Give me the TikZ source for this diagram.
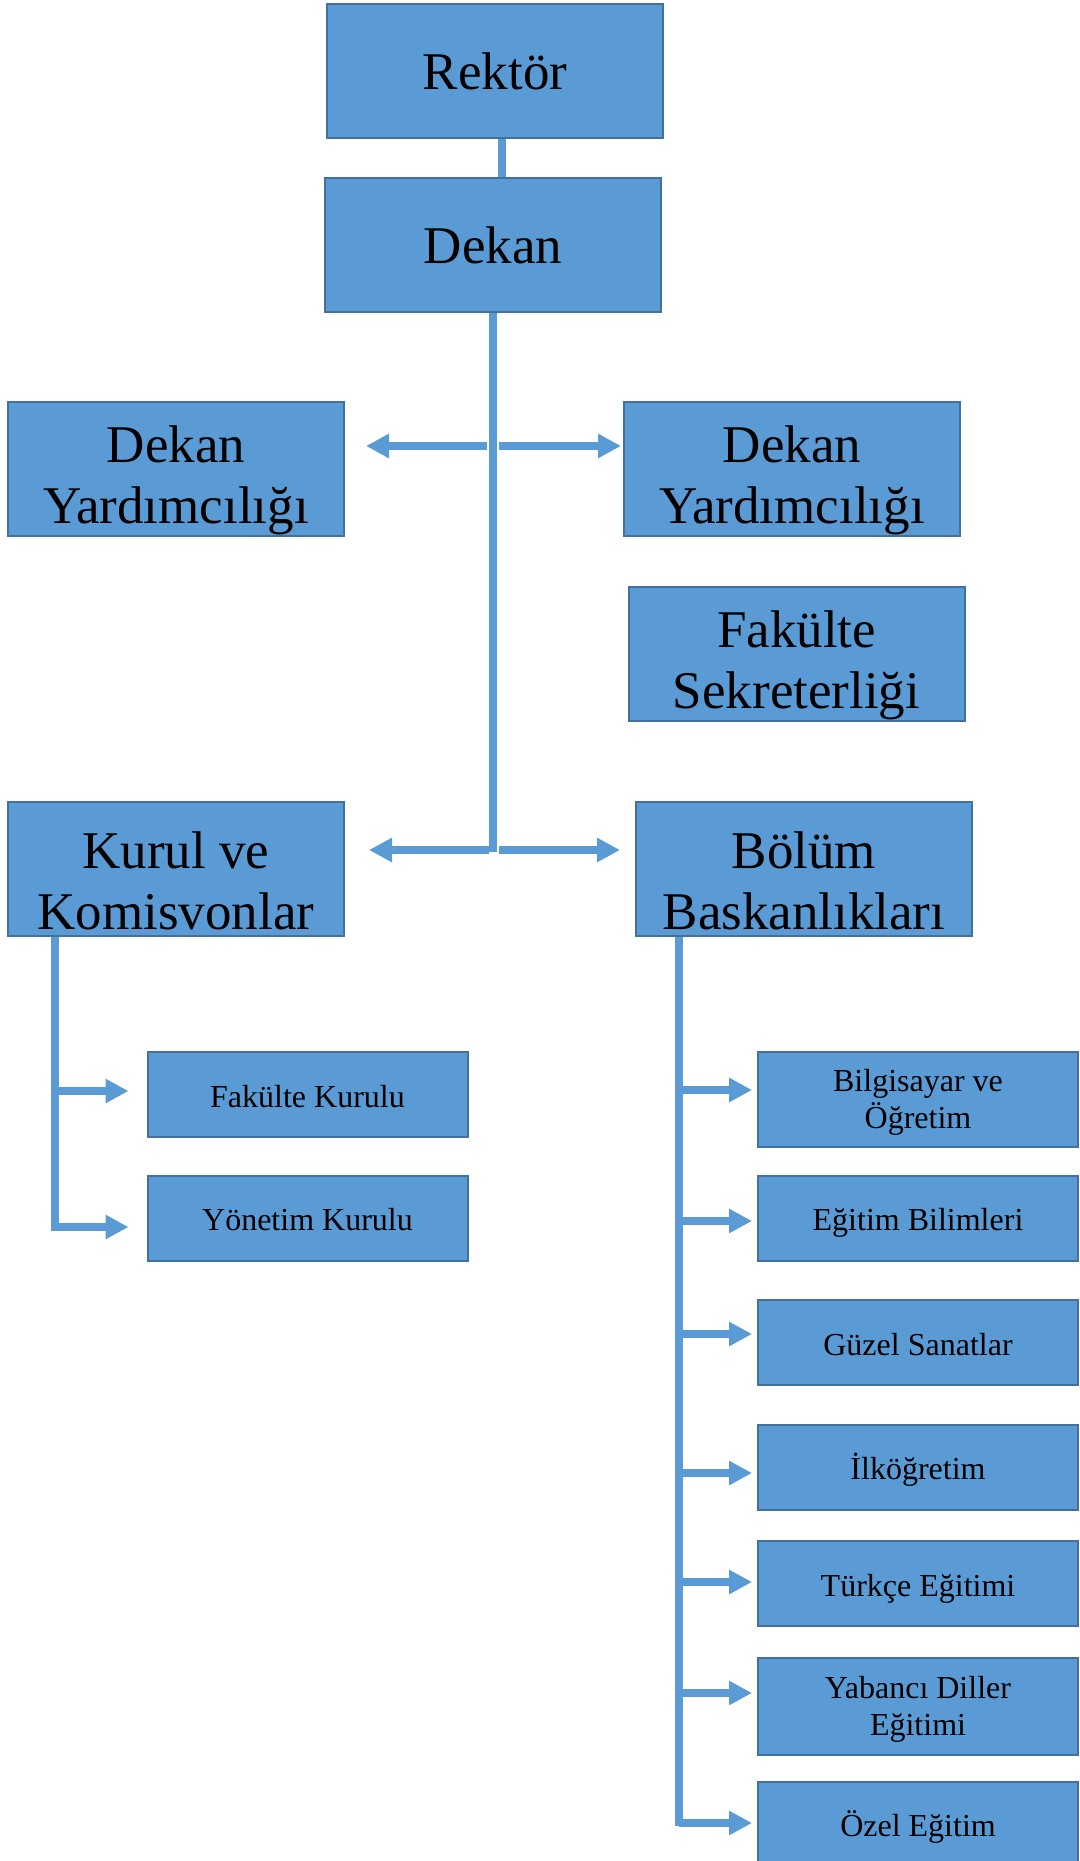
\documentclass[tikz,border=0pt]{standalone}
\usepackage{fontspec}
\setmainfont{Liberation Serif}
\usetikzlibrary{arrows.meta,positioning}
\definecolor{boxblue}{HTML}{5B9BD5}
\definecolor{boxline}{HTML}{41719C}
\newcommand{\bigfirst}{\rule{0pt}{30pt}}
\newcommand{\smallfirst}{\rule{0pt}{14.4pt}}
\tikzset{
	bigbox/.style={draw=boxline, line width=1pt, fill=boxblue, minimum width=168pt, minimum height=67pt, align=center, inner sep=0pt, font=\fontsize{26.5}{30.5}\selectfont},
	smallbox/.style={draw=boxline, line width=1pt, fill=boxblue, minimum width=160pt, minimum height=42.5pt, align=center, inner sep=0pt, font=\fontsize{16}{18.5}\selectfont},
	oneline/.style={text height=16pt, text depth=3.5pt},
	link/.style={draw=boxblue, line width=4pt},
	arr/.style={link, -{Triangle[width=11.5pt,length=11.5pt]}}
}

\begin{document}
\begin{tikzpicture}[x=0.5pt,y=-0.5pt]
	\useasboundingbox (0,0) rectangle (1080,1861);

	\node[bigbox] (rektor) at (495,71) {Rektör};
	\node[bigbox] (dekan) at (493,245.5) {Dekan};
	\node[bigbox] (dy1) at (176,469) {\bigfirst Dekan\\Yardımcılığı};
	\node[bigbox] (dy2) at (792,469) {\bigfirst Dekan\\Yardımcılığı};
	\node[bigbox] (sekr) at (796.5,654) {\bigfirst Fakülte\\Sekreterliği};
	\node[bigbox] (kurul) at (176,869) {\bigfirst Kurul ve\\Komisvonlar};
	\node[bigbox] (bolum) at (804,869) {\bigfirst Bölüm\\Baskanlıkları};

	\node[smallbox, oneline] (fk) at (307.5,1094.5) {Fakülte Kurulu};
	\node[smallbox, oneline] (yk) at (307.5,1218) {Yönetim Kurulu};

	\node[smallbox, minimum height=47.5pt] (b1) at (918,1099.5) {\smallfirst Bilgisayar ve\\Öğretim};
	\node[smallbox, oneline] (b2) at (918,1218) {Eğitim Bilimleri};
	\node[smallbox, oneline] (b3) at (918,1342.5) {Güzel Sanatlar};
	\node[smallbox, oneline] (b4) at (918,1467) {İlköğretim};
	\node[smallbox, oneline] (b5) at (918,1583.5) {Türkçe Eğitimi};
	\node[smallbox, minimum height=48.5pt] (b6) at (918,1706.5) {\smallfirst Yabancı Diller\\Eğitimi};
	\node[smallbox, oneline] (b7) at (918,1824) {Özel Eğitim};

	\coordinate (s1) at (493,446);
	\coordinate (s2) at (493,850);
	\coordinate (kend) at (55,1231);
	\coordinate (bend) at (679,1826);

	\draw[link] ([xshift=3.5pt]rektor.south) -- ([xshift=3.5pt]rektor.south |- dekan.north);
	\draw[link] (dekan.south) -- ([yshift=-1pt]s2);
	\draw[arr, shorten >=10.5pt] ([xshift=-3pt]s1) -- (dy1.east |- s1);
	\draw[arr, shorten >=1pt] ([xshift=3pt]s1) -- (dy2.west |- s1);
	\draw[arr, shorten >=12pt] ([xshift=-2pt]s2) -- (kurul.east |- s2);
	\draw[arr, shorten >=7.5pt] ([xshift=3pt]s2) -- (bolum.west |- s2);

	\draw[link] (kurul.south -| kend) -- (kend);
	\foreach \n/\y in {fk/1091,yk/1227}
		\draw[arr, shorten >=9pt] (kend |- 0,\y) -- (\n.west |- 0,\y);

	\draw[link] (bolum.south -| bend) -- (bend);
	\foreach \n/\y in {b1/1090,b2/1221,b3/1334,b4/1473,b5/1582,b6/1693,b7/1823}
		\draw[arr, shorten >=2.5pt] (bend |- 0,\y) -- (\n.west |- 0,\y);
\end{tikzpicture}
\end{document}
